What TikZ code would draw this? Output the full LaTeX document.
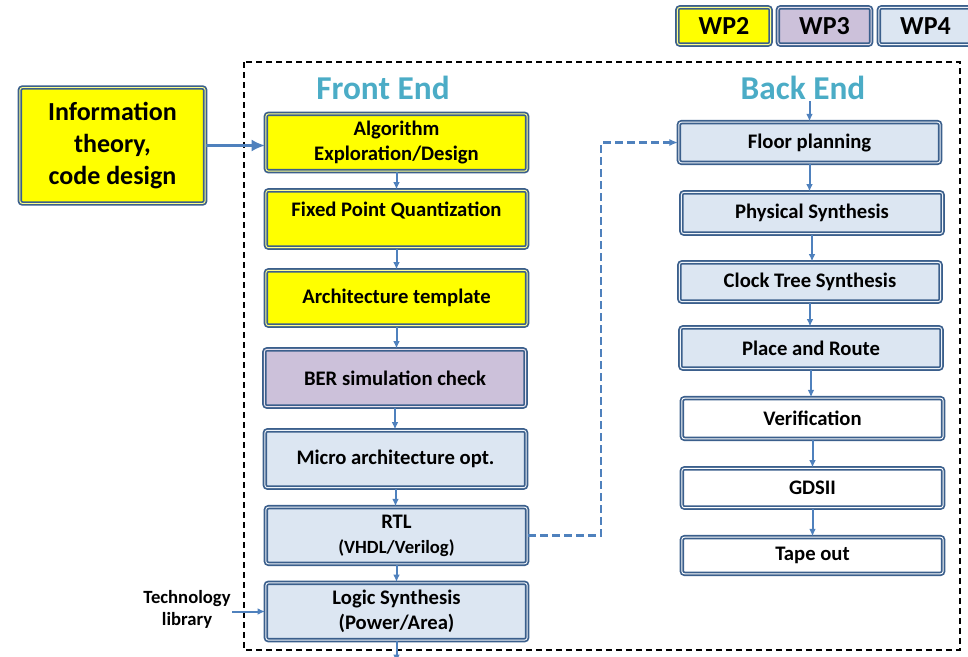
\documentclass[tikz,border=0pt]{standalone}
\usepackage{fontspec}
\setmainfont{Carlito}
\usetikzlibrary{arrows.meta,positioning}
\definecolor{wpyellow}{HTML}{FFFF00}
\definecolor{wppurple}{HTML}{CCC1DA}
\definecolor{wpblue}{HTML}{DCE6F2}
\definecolor{frameline}{HTML}{3B5F8C}
\definecolor{flowline}{HTML}{4F81BD}
\definecolor{headcol}{HTML}{4BACC6}
\newcommand{\wpboxfont}{\fontsize{15.5}{18.6}\selectfont\bfseries}
\newcommand{\wpinfofont}{\fontsize{19.5}{24}\selectfont\bfseries}
\newcommand{\wptitlefont}{\fontsize{25}{30}\selectfont\bfseries}
\newcommand{\wpsmallfont}{\fontsize{14}{16.5}\selectfont\bfseries}

\begin{document}
\begin{tikzpicture}[x=0.75pt, y=-0.75pt,
    wpbox/.style={draw=frameline, line width=1.3pt, double distance=0.7pt, rounded corners=2pt, align=center, inner sep=1pt, font=\wpboxfont},
    yellowbox/.style={wpbox, fill=wpyellow, double=wpyellow!45!white},
    purplebox/.style={wpbox, fill=wppurple, double=wppurple!45!white},
    bluebox/.style={wpbox, fill=wpblue, double=wpblue!45!white},
    whitebox/.style={wpbox, fill=white, double=white},
    colbox/.style={minimum width=196pt, minimum height=43pt},
    bebox/.style={minimum width=196pt, minimum height=30.5pt},
    legbox/.style={minimum width=70pt, minimum height=28pt, font=\wpinfofont},
    headtitle/.style={text=headcol, font=\wptitlefont, inner sep=1pt},
    flowarrow/.style={draw=flowline, line width=1.5pt, -{Latex[length=5.5pt,width=5pt]}},
    bigarrow/.style={flowarrow, line width=1.7pt, -{Latex[length=10pt,width=9pt]}},
    linkarrow/.style={flowarrow, line width=1.6pt, dash pattern=on 6pt off 3pt, -{Latex[length=6.5pt,width=5.5pt]}}]
    \clip (0,0) rectangle (968,657);
    % legend
    \node[yellowbox, legbox] (wp2) at (724,26) {WP2};
    \node[purplebox, legbox] (wp3) at (824.5,26) {WP3};
    \node[bluebox, legbox] (wp4) at (925.5,26) {WP4};
    % frame
    \draw[line width=1.1pt, dash pattern=on 4.5pt off 3pt] (244,62) rectangle (960,650);
    \node[headtitle] (front) at (383,88) {Front End};
    \node[headtitle] (back) at (803,88) {Back End};
    % front end
    \node[yellowbox, minimum width=139pt, minimum height=87pt, font=\wpinfofont] (info) at (112.5,145.5) {Information\\theory,\\code design};
    \node[yellowbox, colbox] (alg) at (396.5,142.5) {Algorithm\\Exploration/Design};
    \node[yellowbox, colbox] (fpq) at (396.5,219) {Fixed Point Quantization\\[-4pt]\mbox{}};
    \node[yellowbox, colbox, minimum height=41.5pt] (arch) at (396.5,298) {Architecture template};
    \node[purplebox, colbox] (ber) at (395,378) {BER simulation check};
    \node[bluebox, colbox] (micro) at (395.5,459) {Micro architecture opt.};
    \node[bluebox, colbox, minimum height=42.5pt] (rtl) at (396.5,535.5) {RTL\\{\wpsmallfont (VHDL/Verilog)}};
    \node[bluebox, colbox] (logic) at (396.5,611.5) {Logic Synthesis\\(Power/Area)};
    \node[font=\wpsmallfont, align=center, inner sep=1pt] (tech) at (187,609) {Technology\\library};
    \coordinate (out) at (396.5,662);
    % back end
    \node[bluebox, bebox] (floor) at (809.5,142.5) {Floor planning};
    \node[bluebox, bebox, minimum height=31pt] (phys) at (812,213) {Physical Synthesis};
    \node[bluebox, bebox, minimum height=29.5pt] (clock) at (810,282) {Clock Tree Synthesis};
    \node[bluebox, bebox, minimum height=31pt] (place) at (811,348) {Place and Route};
    \node[whitebox, bebox] (verif) at (812.5,418.5) {Verification};
    \node[whitebox, bebox, minimum height=29.5pt] (gds) at (812.5,488) {GDSII};
    \node[whitebox, bebox, minimum height=27.5pt] (tape) at (812.5,555.5) {Tape out};
    % arrows
    \draw[bigarrow] (info.east) -- (info.east -| alg.west);
    \foreach \a/\b in {alg/fpq, fpq/arch, arch/ber, ber/micro, micro/rtl, rtl/logic, floor/phys, phys/clock, clock/place, place/verif, verif/gds, gds/tape}
        \draw[flowarrow] (\a.south) -- (\a.south |- \b.north);
    \draw[flowarrow] (logic.south) -- (out);
    \draw[flowarrow] (tech.east |- logic.west) -- (logic.west);
    \draw[flowarrow] (floor.north |- back.south) -- (floor.north);
    \draw[linkarrow] (rtl.east) -- ++(73,0) |- (floor.west);
\end{tikzpicture}
\end{document}
